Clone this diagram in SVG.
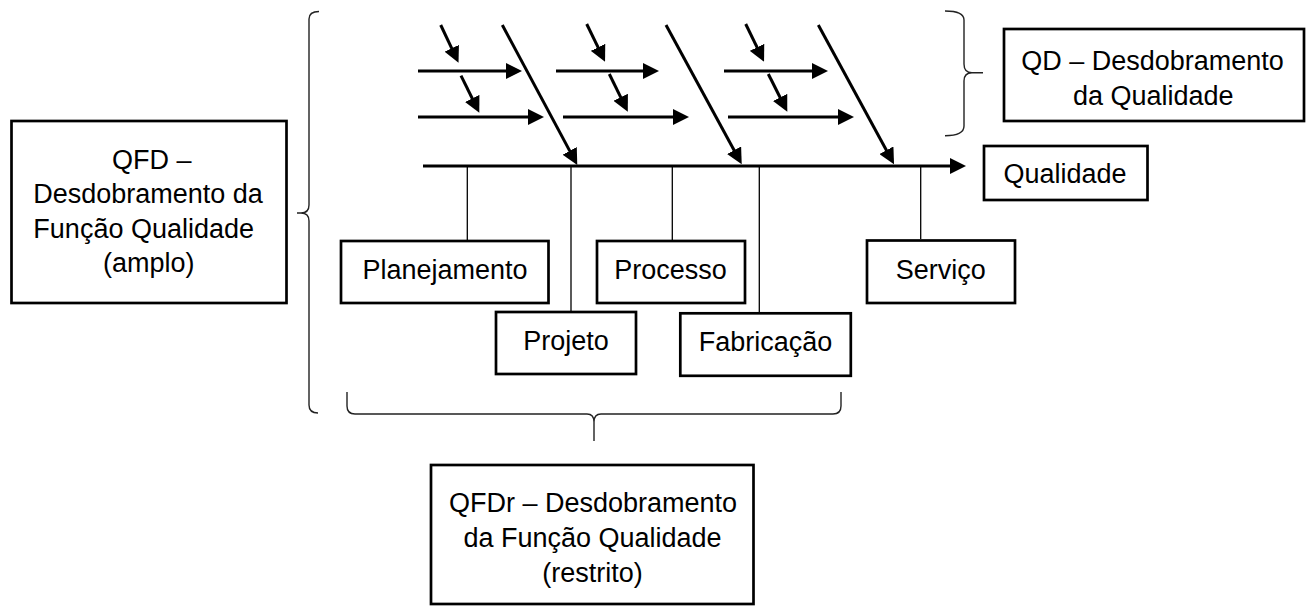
<svg xmlns="http://www.w3.org/2000/svg" width="1310" height="607" viewBox="0 0 1310 607">
<style>
.box{fill:#fff;stroke:#000;stroke-width:2.7}
.t{font-family:"Liberation Sans",Arial,sans-serif;font-size:27px;fill:#000;text-anchor:middle}
.arr{stroke:#000;stroke-width:3;fill:none;marker-end:url(#ah)}
.thin{stroke:#000;stroke-width:1.3;fill:none}
.brace{stroke:#222;stroke-width:1.4;fill:none}
</style>
<defs>
<marker id="ah" markerUnits="userSpaceOnUse" markerWidth="16" markerHeight="16" refX="4" refY="8" orient="auto" viewBox="0 0 16 16">
<path d="M0,0 L16,8 L0,16 Z" fill="#000"/>
</marker>
</defs>
<rect width="1310" height="607" fill="#fff"/>
<g id="connectors">
<line class="arr" x1="423" y1="166" x2="954" y2="166"/>
<line class="arr" x1="418" y1="71" x2="510" y2="71"/>
<line class="arr" x1="418" y1="117" x2="532" y2="117"/>
<line class="arr" x1="556" y1="71" x2="647" y2="71"/>
<line class="arr" x1="563" y1="117" x2="677" y2="117"/>
<line class="arr" x1="724" y1="71" x2="816" y2="71"/>
<line class="arr" x1="728" y1="117" x2="842" y2="117"/>
<line class="arr" x1="502.3" y1="25" x2="571.6" y2="154.4"/>
<line class="arr" x1="666" y1="25" x2="736" y2="153.8"/>
<line class="arr" x1="818.3" y1="25" x2="888.3" y2="153.8"/>
<line class="arr" x1="440.7" y1="25" x2="453.4" y2="51.9"/>
<line class="arr" x1="461" y1="75.7" x2="474" y2="102"/>
<line class="arr" x1="586.7" y1="24" x2="599.8" y2="50.9"/>
<line class="arr" x1="609.3" y1="74" x2="622.5" y2="100.9"/>
<line class="arr" x1="745.7" y1="24" x2="758.8" y2="50.9"/>
<line class="arr" x1="768.3" y1="74" x2="781.9" y2="101"/>
<line class="thin" x1="467.3" y1="167" x2="467.3" y2="240"/>
<line class="thin" x1="571" y1="167" x2="571" y2="311"/>
<line class="thin" x1="672.3" y1="167" x2="672.3" y2="240"/>
<line class="thin" x1="759.3" y1="167" x2="759.3" y2="312"/>
<line class="thin" x1="920.7" y1="167" x2="920.7" y2="239"/>
<path class="brace" d="M319,11.5 Q309,11.5 309,19 L309,205 Q309,213 301,213 L297,213 M301,213 Q309,213 309,221 L309,405 Q309,413 318,413"/>
<path class="brace" d="M945,11 Q964,11 964,20 L964,64 Q964,72.7 972,72.7 L983,72.7 M972,72.7 Q964,72.7 964,81 L964,126 Q964,135.7 945,135.7"/>
<path class="brace" d="M347,392 L347,406 Q347,414 355,414 L587,414 Q594,414 594,422 L594,441 M594,422 Q594,414 601,414 L833,414 Q841,414 841,406 L841,392"/>
</g>
<g id="qfd">
<rect class="box" x="11.5" y="121" width="275" height="182"/>
<text class="t" x="151.7" y="168.5">QFD –</text>
<text class="t" x="148" y="203">Desdobramento da</text>
<text class="t" x="143.7" y="237.5">Função Qualidade</text>
<text class="t" x="148.8" y="272">(amplo)</text>
</g>
<g id="qd">
<rect class="box" x="1004" y="29" width="300" height="92"/>
<text class="t" x="1152.5" y="70">QD – Desdobramento</text>
<text class="t" x="1153.3" y="105">da Qualidade</text>
</g>
<g id="qualidade">
<rect class="box" x="984" y="146" width="163.5" height="54"/>
<text class="t" x="1065" y="183.3">Qualidade</text>
</g>
<g id="planejamento">
<rect class="box" x="341" y="241" width="207.5" height="62"/>
<text class="t" x="445" y="279.3">Planejamento</text>
</g>
<g id="processo">
<rect class="box" x="597" y="241" width="148" height="62"/>
<text class="t" x="670.5" y="279.3">Processo</text>
</g>
<g id="servico">
<rect class="box" x="867" y="240.5" width="148" height="62.5"/>
<text class="t" x="940.8" y="278.5">Serviço</text>
</g>
<g id="projeto">
<rect class="box" x="496" y="312" width="140" height="62"/>
<text class="t" x="566" y="350">Projeto</text>
</g>
<g id="fabricacao">
<rect class="box" x="680.3" y="313.3" width="170.5" height="62.5"/>
<text class="t" x="765.5" y="350.7">Fabricação</text>
</g>
<g id="qfdr">
<rect class="box" x="431" y="465" width="322.5" height="139"/>
<text class="t" x="593" y="511.7">QFDr – Desdobramento</text>
<text class="t" x="592.5" y="546.7">da Função Qualidade</text>
<text class="t" x="592.5" y="581.5">(restrito)</text>
</g>
</svg>
